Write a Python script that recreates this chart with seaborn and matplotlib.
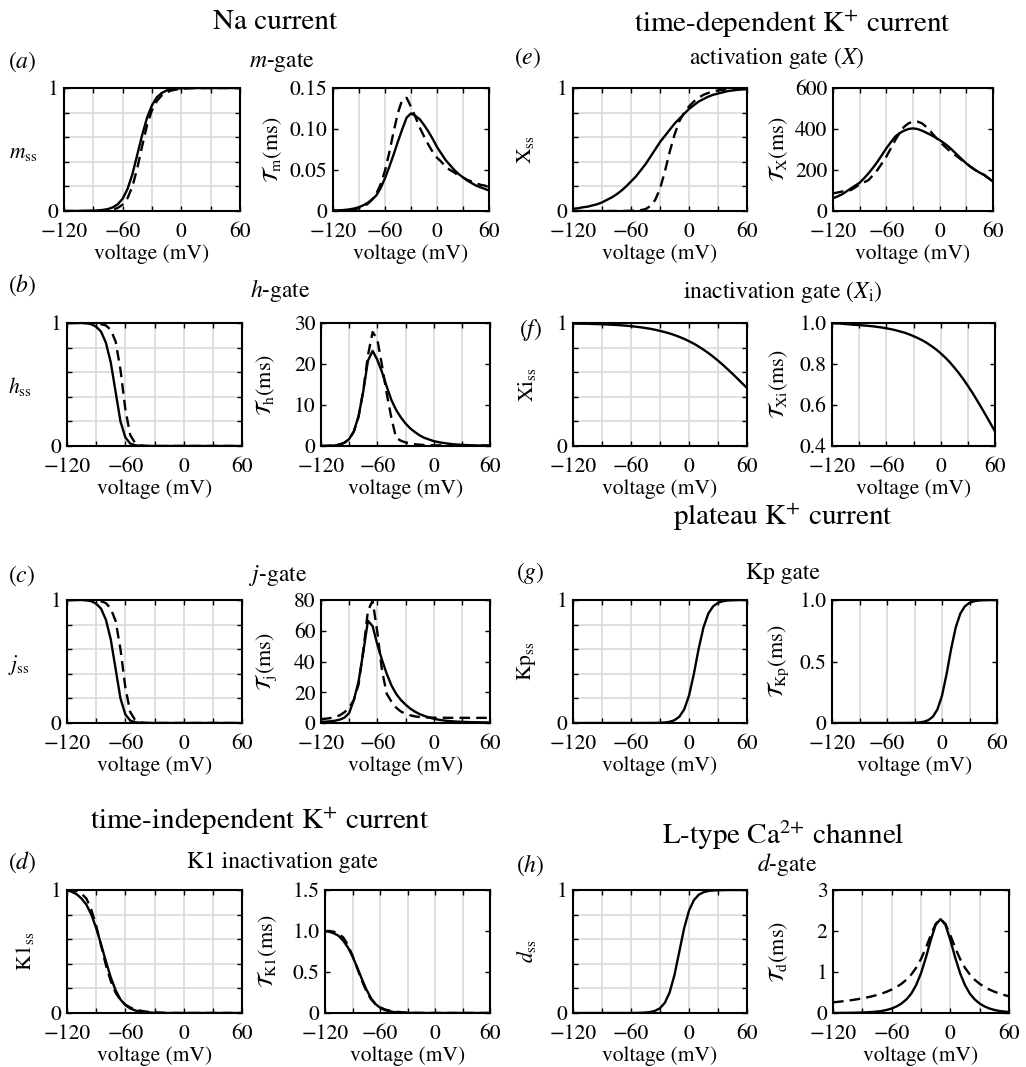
import matplotlib
matplotlib.use("Agg")
import matplotlib.pyplot as plt
import seaborn as sns
from matplotlib.ticker import FixedLocator

# ---------------- data (voltage grid, mV) ----------------
V = list(range(-120, 65, 5))

# (a) Na m-gate
m_ss_solid = [0, 0, 0, 0.001, 0.001, 0.002, 0.003, 0.005, 0.009, 0.016, 0.03, 0.055, 0.1, 0.18, 0.3, 0.46, 0.62,
              0.76, 0.86, 0.925, 0.96, 0.98, 0.99, 0.995, 0.998, 1, 1, 1, 1, 1, 1, 1, 1, 1, 1, 1, 1]
m_ss_dashed = [0, 0, 0, 0, 0, 0, 0.001, 0.001, 0.002, 0.005, 0.012, 0.025, 0.052, 0.105, 0.2, 0.35, 0.53,
               0.7, 0.82, 0.895, 0.94, 0.965, 0.98, 0.988, 0.993, 0.996, 0.998, 0.999, 0.999, 1, 1, 1, 1, 1, 1, 1, 1]
tau_m_solid = [0.0005, 0.0007, 0.001, 0.0015, 0.0022, 0.0032, 0.0047, 0.007, 0.01, 0.014, 0.019, 0.028, 0.04, 0.054,
               0.069, 0.085, 0.1, 0.114, 0.119, 0.116, 0.112, 0.105, 0.097, 0.088, 0.078, 0.07, 0.062, 0.056, 0.05,
               0.045, 0.041, 0.037, 0.034, 0.031, 0.029, 0.027, 0.025]
tau_m_dashed = [0.0002, 0.0004, 0.0006, 0.0009, 0.0014, 0.0022, 0.0035, 0.0055, 0.0087, 0.0136, 0.0212, 0.0327,
                0.0493, 0.0715, 0.097, 0.12, 0.136, 0.138, 0.127, 0.115, 0.102, 0.091, 0.081, 0.072, 0.065, 0.06,
                0.054, 0.05, 0.047, 0.043, 0.041, 0.038, 0.036, 0.034, 0.032, 0.031, 0.029]

# (b) Na h-gate
h_ss_solid = [1, 1, 1, 1, 0.998, 0.99, 0.97, 0.93, 0.84, 0.68, 0.44, 0.2, 0.07, 0.02, 0.006, 0.002, 0.001,
              0, 0, 0, 0, 0, 0, 0, 0, 0, 0, 0, 0, 0, 0, 0, 0, 0, 0, 0, 0]
h_ss_dashed = [1, 1, 1, 1, 1, 1, 0.998, 0.99, 0.98, 0.945, 0.85, 0.62, 0.3, 0.09, 0.025, 0.006, 0.001,
               0, 0, 0, 0, 0, 0, 0, 0, 0, 0, 0, 0, 0, 0, 0, 0, 0, 0, 0, 0]
tau_h_solid = [0.0, 0.02, 0.05, 0.15, 0.35, 0.8, 1.7, 3.6, 7.3, 13.3, 20.8, 23.2, 21.0, 18.0, 14.5, 11.2, 8.8, 7.0,
               5.5, 4.3, 3.4, 2.6, 2.0, 1.6, 1.2, 0.95, 0.75, 0.6, 0.45, 0.35, 0.28, 0.22, 0.17, 0.14, 0.11, 0.09, 0.07]
tau_h_dashed = [0.02, 0.04, 0.09, 0.19, 0.39, 0.82, 1.7, 3.5, 7.1, 13.5, 22.1, 27.8, 26.0, 19.6, 12.8, 6.8, 2.0, 1.3,
                0.87, 0.6, 0.43, 0.32, 0.25, 0.21, 0.18, 0.16, 0.15, 0.14, 0.14, 0.135, 0.133, 0.132, 0.131, 0.131,
                0.13, 0.13, 0.13]

# (c) Na j-gate
j_ss_solid = [1, 1, 1, 1, 0.998, 0.99, 0.97, 0.93, 0.84, 0.68, 0.44, 0.2, 0.07, 0.02, 0.006, 0.002, 0.001,
              0, 0, 0, 0, 0, 0, 0, 0, 0, 0, 0, 0, 0, 0, 0, 0, 0, 0, 0, 0]
j_ss_dashed = [1, 1, 1, 1, 1, 0.999, 0.997, 0.99, 0.975, 0.93, 0.83, 0.6, 0.29, 0.09, 0.025, 0.006, 0.001,
               0, 0, 0, 0, 0, 0, 0, 0, 0, 0, 0, 0, 0, 0, 0, 0, 0, 0, 0, 0]
tau_j_solid = [0.8, 0.9, 1.1, 1.5, 2.2, 3.5, 6.5, 15, 27, 46, 66.5, 63, 51, 41, 32, 24.5, 19, 15, 12, 9.4, 7.4, 5.8,
               4.6, 3.6, 2.8, 2.2, 1.7, 1.35, 1.1, 0.9, 0.75, 0.65, 0.55, 0.5, 0.45, 0.4, 0.38]
tau_j_dashed = [2.5, 2.8, 3.2, 4, 5, 7, 10, 15, 25, 47, 73, 79.5, 59, 34, 19, 14, 10, 7.5, 6, 5, 4.3, 3.9, 3.7, 3.55,
                3.47, 3.42, 3.4, 3.38, 3.37, 3.36, 3.35, 3.35, 3.35, 3.34, 3.34, 3.34, 3.34]

# (d) time-independent K+ (K1)
k1_ss_solid = [1.0, 0.985, 0.965, 0.93, 0.88, 0.8, 0.69, 0.56, 0.42, 0.29, 0.185, 0.11, 0.065, 0.037, 0.021, 0.012,
               0.007, 0.004, 0.002, 0.001, 0, 0, 0, 0, 0, 0, 0, 0, 0, 0, 0, 0, 0, 0, 0, 0, 0]
k1_ss_dashed = [1.0, 0.997, 0.99, 0.97, 0.93, 0.84, 0.71, 0.55, 0.39, 0.26, 0.165, 0.105, 0.068, 0.045, 0.03, 0.02,
                0.013, 0.008, 0.005, 0.003, 0.002, 0.001, 0, 0, 0, 0, 0, 0, 0, 0, 0, 0, 0, 0, 0, 0, 0]
tau_k1_solid = [1.0, 0.99, 0.97, 0.94, 0.88, 0.8, 0.69, 0.56, 0.42, 0.29, 0.185, 0.11, 0.065, 0.037, 0.021, 0.012,
                0.007, 0.004, 0.002, 0.001, 0, 0, 0, 0, 0, 0, 0, 0, 0, 0, 0, 0, 0, 0, 0, 0, 0]
tau_k1_dashed = [1.0, 1.0, 0.99, 0.965, 0.92, 0.83, 0.7, 0.55, 0.4, 0.27, 0.17, 0.11, 0.07, 0.045, 0.03, 0.02,
                 0.013, 0.008, 0.005, 0.003, 0.002, 0.001, 0, 0, 0, 0, 0, 0, 0, 0, 0, 0, 0, 0, 0, 0, 0]

# (e) time-dependent K+ activation X
x_ss_solid = [0.018, 0.022, 0.03, 0.035, 0.045, 0.055, 0.07, 0.09, 0.11, 0.135, 0.165, 0.2, 0.24, 0.28, 0.33, 0.38,
              0.44, 0.5, 0.56, 0.61, 0.66, 0.71, 0.75, 0.79, 0.83, 0.86, 0.89, 0.91, 0.93, 0.945, 0.955, 0.965,
              0.975, 0.98, 0.985, 0.988, 0.99]
x_ss_dashed = [0, 0, 0, 0, 0, 0, 0, 0, 0, 0, 0, 0.001, 0.002, 0.004, 0.007, 0.015, 0.04, 0.09, 0.18, 0.32, 0.48,
               0.62, 0.73, 0.8, 0.85, 0.89, 0.92, 0.945, 0.96, 0.972, 0.98, 0.985, 0.99, 0.993, 0.995, 0.997, 0.998]
tau_x_solid = [62, 71, 81, 95, 110, 124, 138, 160, 184, 211, 240, 273, 306, 335, 363, 380, 392, 400, 403, 400, 392,
               382, 371, 359, 346, 331, 314, 294, 273, 252, 232, 215, 200, 187, 176, 160, 143]
tau_x_dashed = [86, 90, 95, 98, 102, 115, 130, 140, 151, 175, 200, 232, 265, 305, 346, 380, 411, 428, 436, 436, 428,
                410, 387, 362, 338, 318, 298, 281, 265, 248, 232, 215, 200, 187, 176, 160, 143]

# (f) inactivation gate Xi
xi_ss = [0.996, 0.995, 0.994, 0.994, 0.992, 0.991, 0.99, 0.988, 0.986, 0.984, 0.981, 0.978, 0.974, 0.97, 0.965,
         0.959, 0.953, 0.945, 0.936, 0.926, 0.915, 0.902, 0.887, 0.871, 0.852, 0.832, 0.809, 0.783, 0.756, 0.726,
         0.694, 0.66, 0.624, 0.587, 0.549, 0.51, 0.471]
tau_xi = [0.999, 0.998, 0.997, 0.995, 0.993, 0.991, 0.99, 0.988, 0.986, 0.984, 0.981, 0.978, 0.974, 0.97, 0.965,
          0.959, 0.953, 0.945, 0.936, 0.926, 0.915, 0.902, 0.887, 0.871, 0.852, 0.832, 0.809, 0.783, 0.756, 0.726,
          0.694, 0.66, 0.624, 0.587, 0.549, 0.51, 0.471]

# (g) plateau K+ (Kp)
kp_ss = [0, 0, 0, 0, 0, 0, 0, 0, 0, 0, 0, 0, 0, 0, 0.0001, 0.0002, 0.0004, 0.0008, 0.0019, 0.0044, 0.01, 0.023,
         0.051, 0.11, 0.222, 0.398, 0.604, 0.778, 0.89, 0.949, 0.977, 0.99, 0.996, 0.998, 0.999, 1.0, 1.0]
tau_kp = [0, 0, 0, 0, 0, 0, 0, 0, 0, 0, 0, 0, 0, 0, 0.0001, 0.0002, 0.0004, 0.0008, 0.0019, 0.0044, 0.01, 0.023,
          0.051, 0.11, 0.222, 0.398, 0.604, 0.778, 0.89, 0.949, 0.977, 0.99, 0.996, 0.998, 0.999, 1.0, 1.0]

# (h) L-type Ca2+ d-gate
d_ss = [0, 0, 0, 0, 0, 0, 0, 0, 0, 0, 0, 0, 0.0003, 0.0007, 0.0016, 0.0037, 0.008, 0.018, 0.039, 0.083, 0.168, 0.31,
        0.5, 0.69, 0.832, 0.917, 0.961, 0.982, 0.992, 0.996, 0.998, 0.999, 1, 1, 1, 1, 1]
tau_d_solid = [0.0015, 0.002, 0.003, 0.004, 0.006, 0.008, 0.012, 0.018, 0.025, 0.035, 0.05, 0.075, 0.11, 0.16, 0.23,
               0.33, 0.47, 0.68, 0.97, 1.35, 1.78, 2.15, 2.29, 2.15, 1.78, 1.35, 0.97, 0.68, 0.47, 0.33, 0.23, 0.16,
               0.11, 0.075, 0.05, 0.035, 0.025]
tau_d_dashed = [0.26, 0.272, 0.286, 0.301, 0.318, 0.336, 0.357, 0.381, 0.408, 0.439, 0.476, 0.52, 0.572, 0.634,
                0.712, 0.81, 0.937, 1.102, 1.317, 1.589, 1.899, 2.174, 2.289, 2.174, 1.899, 1.589, 1.317, 1.102,
                0.937, 0.81, 0.712, 0.634, 0.572, 0.52, 0.476, 0.439, 0.408]

# ---------------- style ----------------
sns.set_style("ticks")
plt.rcParams["font.family"] = ["STIXGeneral", "DejaVu Serif"]
plt.rcParams["mathtext.fontset"] = "stix"
plt.rcParams["axes.unicode_minus"] = True
for k in ["text.color", "axes.labelcolor", "xtick.color", "ytick.color", "axes.edgecolor"]:
    plt.rcParams[k] = "black"

W, H = 1026, 1067
fig = plt.figure(figsize=(W / 100, H / 100), dpi=100)
fig.patch.set_facecolor("white")

TICK_FS = 15.5
XLAB_FS = 15.5
SSLAB_FS = 15.5
TAULAB_FS = 16
GRID_C = "#dadada"


def add_ax(l, r, t, b):
    return fig.add_axes([l / W, 1 - b / H, (r - l) / W, (b - t) / H])


def draw(ax, solid, dashed):
    sns.lineplot(x=V, y=solid, ax=ax, color="black", lw=1.7, errorbar=None, zorder=3)
    if dashed is not None:
        sns.lineplot(x=V, y=dashed, ax=ax, color="black", lw=1.7, errorbar=None,
                     linestyle=(0, (4.5, 2.6)), zorder=4)


def common(ax):
    ax.set_xlim(-120, 60)
    ax.xaxis.set_major_locator(FixedLocator([-120, -60, 0, 60]))
    ax.xaxis.set_minor_locator(FixedLocator([-90, -30, 30]))
    ax.tick_params(which="both", direction="in", top=True, right=True, length=3.5, width=1.0)
    ax.tick_params(which="major", labelsize=TICK_FS)
    ax.tick_params(axis="x", which="major", pad=8)
    ax.tick_params(axis="y", which="major", pad=4)
    ax.set_axisbelow(True)
    for s in ax.spines.values():
        s.set_linewidth(1.5)
        s.set_color("black")
    ax.set_xlabel("voltage (mV)", fontsize=XLAB_FS, labelpad=1.5)


def ss_panel(l, r, t, b, solid, dashed, label, lab_x, rot, lab_y=0.5):
    ax = add_ax(l, r, t, b)
    draw(ax, solid, dashed)
    common(ax)
    ax.set_ylim(0, 1)
    ax.yaxis.set_major_locator(FixedLocator([0, 1]))
    ax.yaxis.set_minor_locator(FixedLocator([0.2, 0.4, 0.6, 0.8]))
    ax.set_yticklabels(["0", "1"])
    ax.grid(True, which="both", axis="both", color=GRID_C, lw=1.2)
    ax.set_ylabel(label, fontsize=SSLAB_FS, rotation=90 if rot else 0, va="center", ha="center")
    ax.yaxis.set_label_coords((lab_x - l) / (r - l), lab_y)
    return ax


def tau_panel(l, r, t, b, solid, dashed, label, lab_x, ylim, ticks, ticklabels):
    ax = add_ax(l, r, t, b)
    draw(ax, solid, dashed)
    common(ax)
    ax.set_ylim(*ylim)
    ax.yaxis.set_major_locator(FixedLocator(ticks))
    ax.set_yticklabels(ticklabels)
    ax.grid(True, which="both", axis="x", color=GRID_C, lw=1.2)
    ax.set_ylabel(label, fontsize=TAULAB_FS, rotation=90, va="center", ha="center")
    ax.yaxis.set_label_coords((lab_x - l) / (r - l), 0.5)
    return ax


R1, R2, R3, R4 = (88, 211), (323, 446), (600, 723), (890, 1013)

# left column
ss_panel(64, 240, *R1, m_ss_solid, m_ss_dashed, r"$m_{\rm ss}$", 23, False, 0.47)
tau_panel(333, 489, *R1, tau_m_solid, tau_m_dashed, r"$\mathcal{T}_{\rm m}$(ms)", 272,
          (0, 0.15), [0, 0.05, 0.10, 0.15], ["0", "0.05", "0.10", "0.15"])
ss_panel(67, 242, *R2, h_ss_solid, h_ss_dashed, r"$h_{\rm ss}$", 20, False, 0.48)
tau_panel(321, 490, *R2, tau_h_solid, tau_h_dashed, r"$\mathcal{T}_{\rm h}$(ms)", 265,
          (0, 30), [0, 10, 20, 30], ["0", "10", "20", "30"])
ss_panel(67, 242, *R3, j_ss_solid, j_ss_dashed, r"$j_{\rm ss}$", 19, False, 0.47)
tau_panel(321, 490, *R3, tau_j_solid, tau_j_dashed, r"$\mathcal{T}_{\rm j}$(ms)", 266,
          (0, 80), [0, 20, 40, 60, 80], ["0", "20", "40", "60", "80"])
ss_panel(67, 242, *R4, k1_ss_solid, k1_ss_dashed, r"K1$_{\rm ss}$", 25, True)
tau_panel(325, 490, *R4, tau_k1_solid, tau_k1_dashed, r"$\mathcal{T}_{\rm K1}$(ms)", 267,
          (0, 1.5), [0, 0.5, 1.0, 1.5], ["0", "0.5", "1.0", "1.5"])

# right column
ss_panel(573, 747, *R1, x_ss_solid, x_ss_dashed, r"X$_{\rm ss}$", 525, True)
tau_panel(833, 993, *R1, tau_x_solid, tau_x_dashed, r"$\mathcal{T}_{\rm X}$(ms)", 778,
          (0, 600), [0, 200, 400, 600], ["0", "200", "400", "600"])
ss_panel(573, 747, *R2, xi_ss, None, r"Xi$_{\rm ss}$", 527, True)
tau_panel(832, 995, *R2, tau_xi, None, r"$\mathcal{T}_{\rm Xi}$(ms)", 778,
          (0.4, 1.0), [0.4, 0.6, 0.8, 1.0], ["0.4", "0.6", "0.8", "1.0"])
ss_panel(573, 747, *R3, kp_ss, None, r"Kp$_{\rm ss}$", 527, True)
tau_panel(832, 997, *R3, tau_kp, None, r"$\mathcal{T}_{\rm Kp}$(ms)", 778,
          (0, 1.0), [0, 0.5, 1.0], ["0", "0.5", "1.0"])
ss_panel(573, 747, *R4, d_ss, None, r"$d_{\rm ss}$", 527, True)
tau_panel(833, 1009, *R4, tau_d_solid, tau_d_dashed, r"$\mathcal{T}_{\rm d}$(ms)", 778,
          (0, 3), [0, 1, 2, 3], ["0", "1", "2", "3"])


def ftext(x, y, s, size, **kw):
    fig.text(x / W, 1 - y / H, s, fontsize=size, ha=kw.pop("ha", "center"), va="center", **kw)


TITLE_FS = 21
SUB_FS = 17
ftext(275, 22, "Na current", TITLE_FS)
ftext(793, 25, r"time-dependent K$^{+}$ current", TITLE_FS)
ftext(783, 518, r"plateau K$^{+}$ current", TITLE_FS)
ftext(260, 822, r"time-independent K$^{+}$ current", TITLE_FS)
ftext(783, 835, r"L-type Ca$^{2{+}}$ channel", TITLE_FS)

ftext(282, 62, r"$m$-gate", SUB_FS)
ftext(280, 290, r"$h$-gate", SUB_FS)
ftext(278, 576, r"$j$-gate", SUB_FS)
ftext(282, 862, "K1 inactivation gate", SUB_FS)
ftext(777, 58, r"activation gate ($X$)", SUB_FS)
ftext(783, 292, r"inactivation gate ($X_{\rm i}$)", SUB_FS)
ftext(783, 573, "Kp gate", SUB_FS)
ftext(787, 865, r"$d$-gate", SUB_FS)

ftext(22, 62, r"($a$)", SUB_FS)
ftext(22, 285, r"($b$)", SUB_FS)
ftext(22, 576, r"($c$)", SUB_FS)
ftext(22, 862, r"($d$)", SUB_FS)
ftext(528, 58, r"($e$)", SUB_FS)
ftext(531, 330, r"($f$)", SUB_FS)
ftext(530, 573, r"($g$)", SUB_FS)
ftext(530, 865, r"($h$)", SUB_FS)

fig.savefig("out.png", dpi=100, facecolor="white")
